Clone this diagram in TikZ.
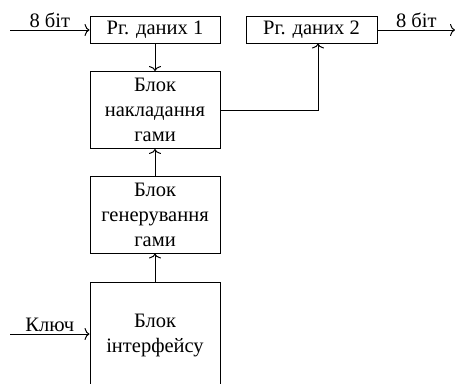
\documentclass[tikz,border=0pt]{standalone}
\usepackage{fontspec}
\setmainfont{Liberation Serif}
\usetikzlibrary{arrows.meta}
\begin{document}
\begin{tikzpicture}[x=1pt, y=-1pt, line width=1pt,
    txt/.style={font=\fontsize{20.5}{25}\selectfont, inner sep=0pt},
    blk/.style={txt, draw, minimum width=130pt, align=center},
    sig/.style={-{To[length=5pt, width=12pt]}}]
  \clip (0,0) rectangle (455,383);
  \node[blk, minimum height=27pt] (reg1) at (155,29.5) {Рг. даних 1};
  \node[blk, minimum height=77pt] (mix) at (155,110) {Блок\\накладання\\гами};
  \node[blk, minimum height=77pt] (gen) at (155,214.5) {Блок\\генерування\\гами};
  \node[blk, minimum height=106pt] (iface) at (155,335) {Блок\\інтерфейсу};
  \node[blk, minimum width=131pt, minimum height=27pt] (reg2) at (311.5,29.5) {Рг. даних 2};
  \coordinate (din) at (10,30);
  \coordinate (dout) at (455,30);
  \coordinate (kin) at (10,334);
  \draw[sig] (din) -- (din -| reg1.west) node[txt, midway, above=2pt] {8 біт};
  \draw[sig] (reg2.east |- dout) -- (dout) node[txt, midway, above=2pt] {8 біт};
  \draw[sig] (kin) -- (kin -| iface.west) node[txt, midway, above=2pt] {Ключ};
  \draw[sig] (reg1) -- (mix);
  \draw[sig] (gen) -- (mix);
  \draw[sig] (iface) -- (gen);
  \draw[sig] (mix.east) -| ([xshift=6.5pt]reg2.south);
\end{tikzpicture}
\end{document}
